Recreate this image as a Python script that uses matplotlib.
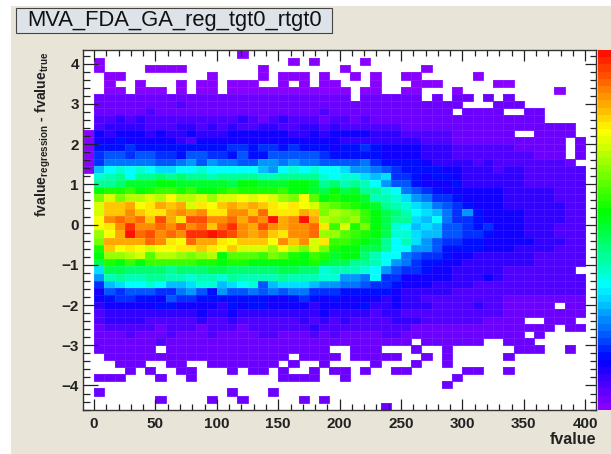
import numpy as np
import matplotlib
matplotlib.use("Agg")
import matplotlib.pyplot as plt
from matplotlib.colors import LinearSegmentedColormap
from matplotlib.patches import Rectangle
from matplotlib.ticker import MultipleLocator

title = "MVA_FDA_GA_reg_tgt0_rtgt0"
x_label = "fvalue"
y_label = r"fvalue$_{\mathbf{regression}}$ - fvalue$_{\mathbf{true}}$"
x_ticks = [0, 50, 100, 150, 200, 250, 300, 350, 400]
y_ticks = [-4, -3, -2, -1, 0, 1, 2, 3, 4]

# colour level of every bin (base 36, '.' = empty), top row first, read by eye
level_rows = [
    "........ ......0. ........ ........ ........ ........",
    "0....... ........ ...0.0.. ..0..... ........ ........",
    "0....000 0....... 0....... 0....... 0....... ........",
    ".00..... ...0.... 0.000.0. .0.0..00 .....0.. ........",
    ".0..0... 0.00.000 ..0.0.00 ...0...0 00.....0 0.......",
    ".00.000. 0.00.000 00000000 0.00..00 ...0.... .....0..",
    "11111111 11111111 11111111 1.111111 .1.11.1. 1.......",
    "11111111 21111111 11111111 11111111 1111...1 11......",
    "11111211 11111111 11111121 11111111 111.1111 ..11....",
    "22323222 22222232 12322212 21211111 11111111 1111....",
    "23333222 33232322 33223323 22222211 11111111 1111111.",
    "43444343 34333444 44433434 44433322 22211111 1..1111.",
    "44544444 32444444 44444444 33333333 22211111 111111.1",
    "55565555 55555665 66565554 55654444 33322222 211111.1",
    "67767766 57766575 57777765 55554444 33322222 222111.1",
    "68888877 89798877 99898877 77865555 43333232 2222221.",
    "acdcdcbb ccdccccc a9cdcdcc b9987655 55443332 33222222",
    "defcffgf gffeffff eeffffdc ddbab665 45543333 33222222",
    "ffgiiijj iiiiihjj iiijjifg efec9775 44453333 33222222",
    "jkkljkll kljjklkk kkljjihj hiffdc87 65444444 33333222",
    "nqnppqpr ppqoqqrq rqonrmjk jjieedb9 86654444 33333222",
    "qttursut uqsrtutu tsrsrqnm lkjifedb a8765444 33333322",
    "qttvtssu vuvssvvt wsssutnp onljhgec ba869544 44333322",
    "rvwvwtxu sxxvvwuw vzuvzupo noljhffb ac866544 44333322",
    "rsvyvvwv xvwtwyvu xvuvvwsl qknjhdca ba776564 44333222",
    "oruzwxvw vyyzyxvu vtsvvwoo mlkjhddb aa776654 44333222",
    "nuuuuwvs rwuusrtt trvtvqsl lkjifceb 97665544 44433322",
    "ktrsrqrr sstsrtqq qorpnqnk jjhhfcc9 97555544 43333222",
    "joopqmpp onopjmmm lnmkjlki jjgecc87 66544333 33322222",
    "hkjljlll llkkjkkj jjjjjkih hffec986 55443333 33322222",
    "bhhggggf ggghhggg gghhggde eedc9766 54433333 2222222.",
    "9efeeffe edeedfee eefeeedd 998c6644 44433343 22222222",
    "6abccdca abddabcd 7abbba99 88766544 43333222 22222222",
    "47677766 89759778 78788666 55555433 33322222 22222222",
    "45665547 66555555 54456545 44443433 22222222 11111111",
    "34444455 44443545 54444344 44533433 32222322 11111.11",
    "23333333 33433433 33333343 33323322 22222222 11111111",
    "23333222 22322322 22223232 32222333 22222211 11..111.",
    "12222212 22122212 22222322 22222221 11111111 11111.11",
    "11121112 11121111 22111212 11112211 11111111 11.1....",
    "11111121 11111111 11111111 1111111. 111111.. 111.....",
    "111111.1 11111111 1111111. .111...1 ..1..... .111..1.",
    ".1111111 11111111 111.1111 .11111.. 1.1..... 1.......",
    "..111..1 1..11111 11.1..1. ...1...1 ..1..... ........",
    "...1.1.. 11...1.1 1.1..1.1 1.1..11. ....11.. 1.......",
    "111...1. .1...... ..1111.. 1....... ...1.... ........",
    "........ ........ ........ ........ ..1..... ........",
    "1....... .....1.. .1...... ........ ........ ........",
    "......1. ...1..1. ....1.1. ........ ........ ........",
    "........ ........ ........ ....1... ........ ........",
]
# rows that also have the underflow bin left of x = 0
underflow_rows = [11, 12, 13, 14, 15, 16]

levels = []
for r, row in enumerate(level_rows):
    cells = [np.nan if ch == "." else int(ch, 36) for ch in row.replace(" ", "")]
    levels.append([0.0 if r in underflow_rows else np.nan] + cells)
levels = np.ma.masked_invalid(np.array(levels, dtype=float))

plt.rcParams["font.family"] = ["Liberation Sans", "DejaVu Sans"]
plt.rcParams["mathtext.fontset"] = "custom"
plt.rcParams["mathtext.bf"] = "Liberation Sans:bold"
plt.rcParams["mathtext.rm"] = "Liberation Sans:bold"
plt.rcParams["mathtext.default"] = "bf"

# the rainbow palette, purple at the bottom
palette = LinearSegmentedColormap.from_list("root_rainbow", [
    (0.0, "#8800ff"), (0.13, "#0000ff"), (0.34, "#00ffff"),
    (0.55, "#00ff00"), (0.78, "#ffff00"), (1.0, "#ff1000")])

W, H = 611, 454
fig = plt.figure(figsize=(W / 100, H / 100), dpi=100, facecolor="#e8e4d8")

# white margin left and on top of the canvas
fig.patches.append(Rectangle((0, 0), 10.5 / W, 1, transform=fig.transFigure, fc="white", ec="none"))
fig.patches.append(Rectangle((0, 1 - 5.5 / H), 1, 5.5 / H, transform=fig.transFigure, fc="white", ec="none"))

def px_box(x0, y0, x1, y1):
    return [x0 / W, 1 - y1 / H, (x1 - x0) / W, (y1 - y0) / H]

ax = fig.add_axes(px_box(83, 50, 596, 410), facecolor="white")
x_edges = np.linspace(-400 / 48, 400, 50)
y_edges = np.linspace(4.32, -4.61, 51)
ax.pcolormesh(x_edges, y_edges, levels, cmap=palette, vmin=0, vmax=35,
              edgecolors=(1, 1, 1, 0.08), linewidth=0.5)
ax.set_xlim(-9, 408.8)
ax.set_ylim(-4.61, 4.34)

ax.set_xticks(x_ticks)
ax.set_yticks(y_ticks)
ax.xaxis.set_minor_locator(MultipleLocator(10))
ax.yaxis.set_minor_locator(MultipleLocator(0.2))
ax.tick_params(which="both", direction="in", top=True, right=True, width=0.9, color="#222222")
ax.tick_params(which="major", length=8, labelsize=11)
ax.tick_params(which="minor", length=4)
ax.tick_params(axis="x", which="major", pad=5)
ax.tick_params(axis="y", which="major", pad=3)
for t in ax.yaxis.get_major_ticks():
    t.tick1line.set_markersize(11)
for t in ax.yaxis.get_minor_ticks():
    t.tick1line.set_markersize(5)
for label in ax.get_xticklabels() + ax.get_yticklabels():
    label.set_fontweight("bold")
    label.set_color("#222222")
for s in ax.spines.values():
    s.set_linewidth(1.0)
    s.set_color("#333333")

fig.text(596 / W, 1 - 440 / H, x_label, ha="right", va="center", fontsize=11.5, fontweight="bold", color="#222222")
fig.text(43 / W, 1 - 134 / H, y_label, rotation=90, ha="center", va="center", fontsize=10.2, fontweight="bold", color="#222222")

# palette strip, runs off the right edge
cax = fig.add_axes(px_box(598, 50, 612, 410))
steps = np.arange(50)[:, None]
cax.pcolormesh([0, 1], np.arange(51), steps, cmap=palette, vmin=0, vmax=49)
cax.set_xticks([])
cax.set_yticks([])
for s in cax.spines.values():
    s.set_visible(False)

# title box with its little shadow
fig.patches.append(Rectangle((17.5 / W, 1 - 34 / H), 316 / W, 25 / H, transform=fig.transFigure, fc="#555555", ec="none"))
fig.patches.append(Rectangle((16 / W, 1 - 32.5 / H), 316 / W, 24.5 / H, transform=fig.transFigure, fc="#dde3e9", ec="#444444", lw=0.8))
fig.text(175 / W, 1 - 20.5 / H, title, ha="center", va="center", fontsize=15.8, color="#111111")

fig.savefig("out.png", dpi=100, facecolor=fig.get_facecolor())
